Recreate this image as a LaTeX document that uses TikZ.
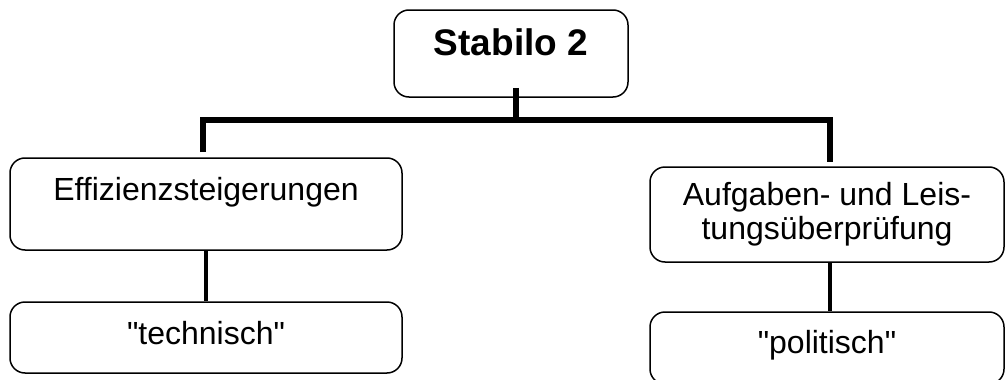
\documentclass[tikz,border=0pt]{standalone}
\usepackage{fontspec}
\setmainfont{Liberation Sans}
\begin{document}
\begin{tikzpicture}[x=1pt,y=-1pt,
  box/.style={draw, line width=1.5pt, rounded corners=15pt, inner sep=0pt, align=center,
    font=\fontsize{32}{34}\selectfont},
  conn/.style={line width=6pt, line cap=butt, line join=miter},
  thinconn/.style={line width=4.5pt, line cap=butt}]
\useasboundingbox (0,0) rectangle (1005,380);
\node[box, minimum width=234pt, text height=45pt, text depth=42pt,
  font=\fontsize{37}{40}\selectfont\bfseries] (top) at (511,53.5) {Stabilo 2};
\node[box, minimum width=392pt, text height=42pt, text depth=50pt] (eff) at (206,204) {Effizienzsteigerungen};
\node[box, minimum width=392pt, text height=42pt, text depth=29pt] (tech) at (206,337.5) {\textquotedbl technisch\textquotedbl};
\node[box, minimum width=354pt, minimum height=95pt] (auf) at (827,214.5) {Aufgaben- und Leis-\\tungsüberprüfung};
\node[box, minimum width=354pt, text height=41pt, text depth=31pt] (pol) at (827,348) {\textquotedbl politisch\textquotedbl};
\coordinate (hub) at (515.5,119.5);
\coordinate (hl) at (202.5,119.5);
\coordinate (hr) at (830,119.5);
\coordinate (el) at (202.5,152);
\coordinate (er) at (830,162);
\draw[conn] ([yshift=10pt]top.south -| hub) -- (hub);
\draw[conn] (el) -- (hl) -- (hr) -- (er);
\draw[thinconn] (eff.south) -- (tech.north);
\draw[thinconn] ([xshift=3pt]auf.south) -- ([xshift=3pt]pol.north);
\end{tikzpicture}
\end{document}
